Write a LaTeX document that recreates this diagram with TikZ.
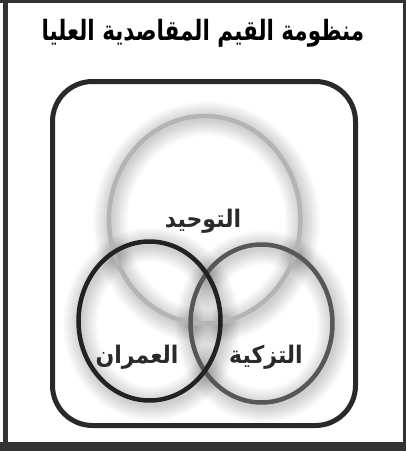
\documentclass[tikz,border=0pt]{standalone}
\usepackage{fontspec}
\newfontfamily\arabicfont[Script=Arabic]{DejaVu Sans}
\TeXXeTstate=1
\definecolor{framegray}{HTML}{333333}
\definecolor{topring}{HTML}{B4B4B4}
\definecolor{leftring}{HTML}{222222}
\definecolor{rightring}{HTML}{575757}
\definecolor{labelgray}{HTML}{2A2A2A}
\tikzset{
  ring/.style={line width=4.5pt},
  glowring/.style={black, opacity=0.013},
  label/.style={font=\arabicfont\bfseries\fontsize{22}{26}\selectfont, text=labelgray, inner sep=0pt, yscale=1.1},
}
\newcommand{\myglow}[3]{%
  \foreach \w in {5,7,...,35}{%
    \draw[glowring, line width=\w pt] (#1) ellipse [x radius=#2, y radius=#3];
  }%
}
\begin{document}
\begin{tikzpicture}[x=1pt,y=-1pt]
\useasboundingbox (0,0) rectangle (406,451);
\fill[white] (0,0) rectangle (406,451);
% outer frame bands
\fill[framegray] (3,0) rectangle (8,451);
\fill[framegray] (0,0) rectangle (406,3);
\fill[framegray] (403,0) rectangle (406,451);
\fill[framegray] (0,442) rectangle (406,451);
% title
\node[font=\arabicfont\bfseries\fontsize{21.5}{26}\selectfont, text=black, inner sep=0pt, yscale=1.3] (title) at (203,33) {\beginR منظومة القيم المقاصدية العليا\endR};
% rounded box
\draw[framegray!80!black, line width=5pt, rounded corners=40pt] (52.5,81.5) rectangle (355.5,425.5);
% glows
\coordinate (ct) at (206.5,222.5);
\coordinate (cl) at (151.5,324);
\coordinate (cr) at (263.5,326.5);
\myglow{ct}{96}{104}
\myglow{cl}{71}{79.5}
\myglow{cr}{71}{79}
% rings
\draw[ring, topring] (204.75,219.75) ellipse [x radius=95.75, y radius=103.75];
\draw[ring, rightring] (261.5,323.5) ellipse [x radius=71, y radius=79];
\draw[ring, leftring] (149.5,321) ellipse [x radius=71, y radius=79.5];
% labels
\node[label] (tawhid) at (203,221) {\beginR التوحيد\endR};
\node[label] (umran) at (137,357) {\beginR العمران\endR};
\node[label] (tazkiya) at (266,357) {\beginR التزكية\endR};
\end{tikzpicture}
\end{document}
